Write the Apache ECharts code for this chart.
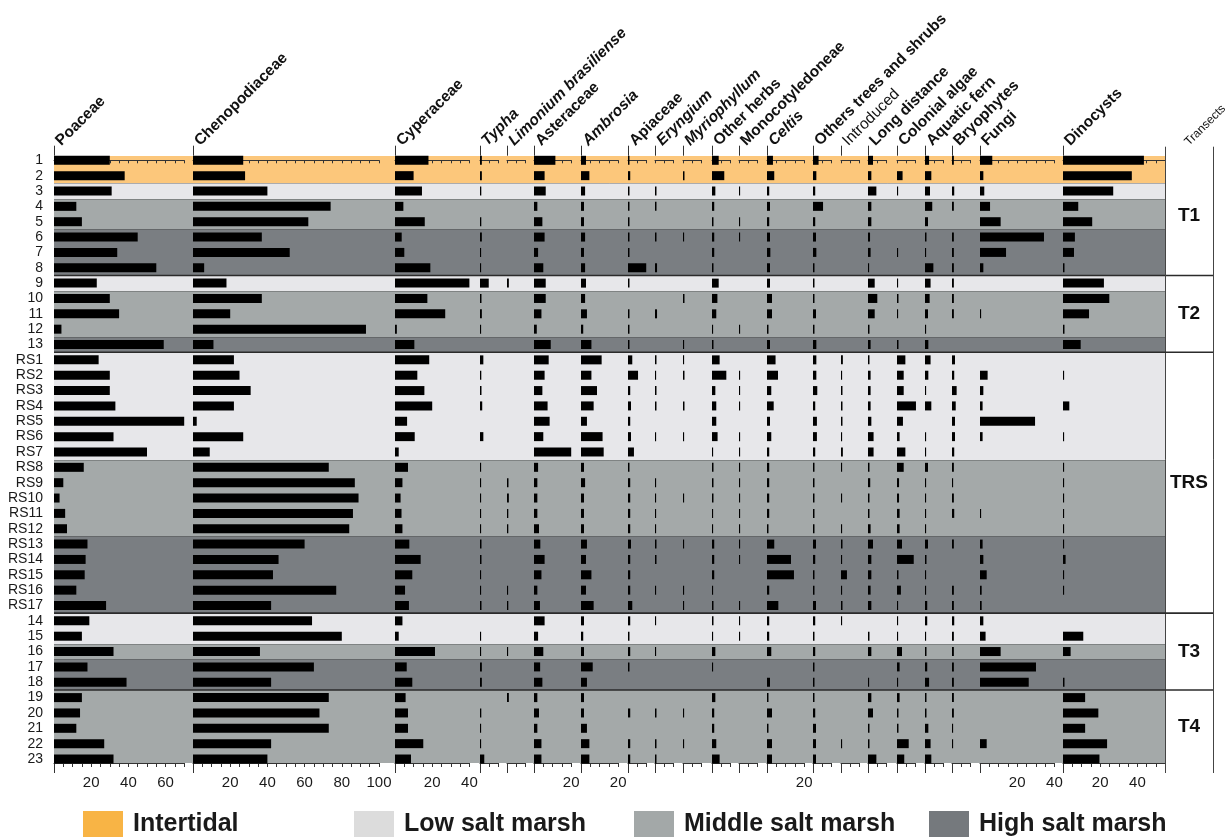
<!DOCTYPE html>
<html>
<head>
<meta charset="utf-8">
<script src="https://cdn.jsdelivr.net/npm/echarts@6/dist/echarts.min.js"></script>
<style>
  html, body { margin: 0; padding: 0; background: #fff; }
  #chart { width: 1226px; height: 838px; }
</style>
</head>
<body>
<div id="chart"></div>
<script>
// ---- Samples (rows, top to bottom) ----
const rowLabels = ['1','2','3','4','5','6','7','8','9','10','11','12','13',
  'RS1','RS2','RS3','RS4','RS5','RS6','RS7','RS8','RS9','RS10','RS11','RS12','RS13','RS14','RS15','RS16','RS17',
  '14','15','16','17','18','19','20','21','22','23'];

const environments = ['Intertidal','Intertidal','Low salt marsh','Middle salt marsh','Middle salt marsh',
  'High salt marsh','High salt marsh','High salt marsh',
  'Low salt marsh','Middle salt marsh','Middle salt marsh','Middle salt marsh','High salt marsh',
  'Low salt marsh','Low salt marsh','Low salt marsh','Low salt marsh','Low salt marsh','Low salt marsh','Low salt marsh',
  'Middle salt marsh','Middle salt marsh','Middle salt marsh','Middle salt marsh','Middle salt marsh',
  'High salt marsh','High salt marsh','High salt marsh','High salt marsh','High salt marsh',
  'Low salt marsh','Low salt marsh','Middle salt marsh','High salt marsh','High salt marsh',
  'Middle salt marsh','Middle salt marsh','Middle salt marsh','Middle salt marsh','Middle salt marsh'];

const transects = ['T1','T1','T1','T1','T1','T1','T1','T1',
  'T2','T2','T2','T2','T2',
  'TRS','TRS','TRS','TRS','TRS','TRS','TRS','TRS','TRS','TRS','TRS','TRS','TRS','TRS','TRS','TRS','TRS',
  'T3','T3','T3','T3','T3',
  'T4','T4','T4','T4','T4'];

const envNames = ['Intertidal','Low salt marsh','Middle salt marsh','High salt marsh'];

// ---- Taxa (columns) ----
const taxa = ['Poaceae','Chenopodiaceae','Cyperaceae','Typha','Limonium brasiliense','Asteraceae','Ambrosia',
  'Apiaceae','Eryngium','Myriophyllum','Other herbs','Monocotyledoneae','Celtis','Others trees and shrubs',
  'Introduced','Long distance','Colonial algae','Aquatic fern','Bryophytes','Fungi','Dinocysts'];
const italicTaxa = ['Typha','Limonium brasiliense','Ambrosia','Eryngium','Myriophyllum','Celtis'];
const lightTaxa = ['Introduced'];
const axisMax = [70,100,40,10,10,20,20,10,10,10,10,10,20,10,10,10,10,10,10,40,55];

// ---- Percentages per sample ----
const poaceae = [30,38,31,12,15,45,34,55,23,30,35,4,59,
  24,30,30,33,70,32,50,16,5,3,6,7,18,17,16.5,12,28,
  19,15,32,18,39,15,14,12,27,32];
const chenopodiaceae = [27,28,40,74,62,37,52,6,18,37,20,93,11,
  22,25,31,22,2,27,9,73,87,89,86,84,60,46,43,77,42,
  64,80,36,65,42,73,68,73,42,40];
const cyperaceae = [18,10,14.5,4.5,16,3.6,5,19,40,17.4,27,1,10.4,
  18.4,12,15.8,20,6.5,10.6,2,7,4,3,3.5,4,7.7,13.8,9.3,5.4,7.5,
  4,2,21.5,6.3,9.3,5.7,7,7,15.2,8.6];
const typha = [1,1,0.7,0,0.7,1,0.6,0.6,4.7,0.8,1,0.6,0,
  1.8,0.7,0.8,1.2,0,1.8,0,0.6,0.6,0.6,0.6,0.6,0.8,0.8,0.6,0.6,0.8,
  0,0.6,0.6,1,1,0,0.7,0.6,0.6,2.3];
const limonium = [0,0,0,0,0,0,0,0,1,0,0,0,0,
  0,0,0,0,0,0,0,0,0.8,1,0.7,0.7,0,0,0,0.6,0.7,
  0,0,0.6,0,0,1,0,0,0,0];
const asteraceae = [11.5,5.7,6.3,1.8,4.5,5.7,2.2,5,6.3,6.3,4,1.5,9,
  7.9,5.7,4.5,7.3,8.4,5,20,2.2,1.8,1.8,1.8,2.7,3.4,5.7,4,1.8,3.2,
  5.7,2.2,5,3.3,4.5,1.8,2.7,1.8,4,4];
const ambrosia = [2.7,4.5,2.2,1.6,1.6,2.2,1.6,2.2,2.7,2.2,3.2,1.2,5.6,
  11.1,5.6,8.6,6.8,3.2,11.6,12.2,1.6,2.2,1.6,1.6,1.6,3.2,2.7,5.6,2.7,6.8,
  1.6,1.2,1.6,6.3,3.2,1.6,1.6,3.2,4.5,4.5];
const apiaceae = [0.8,1.2,0.8,0.8,0.8,0.8,0.8,9.8,0.8,0,0.8,0.8,0.8,
  2.3,5.4,1.2,1.6,1.2,1.6,3.2,0.8,1.2,1.2,1.2,1.2,1.6,1.2,1.2,1.2,2.3,
  1.2,0.8,1.2,0.8,0,0,1.2,0,1.2,1.2];
const eryngium = [0,0,0.8,0.8,0,0.8,0,1.1,0,0,1.1,0,0,
  0.8,0.6,0.8,0.8,0,0.6,0,0,0.6,0.6,0.6,0.6,0.8,0.8,0,0.6,0,
  0.6,0,0.6,0,0,0,0.8,0,0.8,0.8];
const myriophyllum = [0,0.8,0,0,0,0.6,0,0,0,0.8,0,0,0.6,
  0.6,0.8,0,0.8,0,0.6,0,0,0,0.6,0,0,0.6,0,0,0.6,0.6,
  0,0,0,0,0,0,0.6,0,0.6,0];
const otherHerbs = [3.6,6.6,1.8,1.2,0.8,1.2,1.2,0.8,3.6,2.9,2.3,0.6,0.8,
  4.1,7.7,1.8,2.3,2.3,3,0.6,0.8,0.8,0.8,0.6,0.6,1.2,1.2,1.2,0.6,0.8,
  0.8,0.6,1.8,0.6,0,1.8,1.2,1.2,2.3,4.1];
const monocotyledoneae = [0,0,0.6,0,0.6,0.6,0,0,0,0,0,0.6,0,
  0,0.6,0.6,0.6,0,0.6,0.6,0.6,0.6,0.6,0.6,0.6,0.6,0.6,0,0,0.6,
  0.6,0.6,0,0,0,0,0,0,0,0];
const celtis = [3.2,3.9,1.2,1.6,1.2,1.6,1.8,1.6,1.6,2.7,2.7,0.8,1.6,
  4.6,5.9,2.3,3.6,1.6,2.3,1.2,1.2,1.2,1.2,1.2,0.8,3.9,12.9,14.5,1.2,6.1,
  1.2,1.2,2.3,0,1.6,0.8,2.7,0.8,2.7,2.7];
const othersTrees = [3,1.8,1.2,5.4,1.2,1.6,1.8,0.8,0.8,0.8,1.6,0.8,1.8,
  1.8,1.8,2.3,1.2,2.1,2.1,1.2,0.8,0.8,0.8,0.8,0.8,1.6,1.2,0.8,0.8,1.6,
  1.2,0.8,1.2,0.8,0.8,0.8,1.2,1.6,1.6,1.6];
const introduced = [0,0,0,0,0,0,0,0,0,0,0,0,0,
  1,0.6,0.8,0.8,0.8,0.6,1,0.6,0,0.6,0,0.6,0.8,0.6,3.2,0.6,0.8,
  0.6,0,0,0,0,0,0,0,0.6,0];
const longDistance = [2.7,1.8,4.5,1.8,1.8,1.1,1.4,0.6,3.6,5,3.6,0.8,1.4,
  0.8,1.4,1.4,1.4,1.8,3,3,0.8,1.2,0.8,0.8,1.4,2.7,1.8,1.8,1.4,1.8,
  0,0.8,1.8,0,0.6,1.8,2.7,0.8,0.8,4.5];
const colonialAlgae = [0,3,0.6,0,0,0,0.6,0,0.6,0.8,0.6,0,0.8,
  4.5,3.6,3.6,10.2,3.2,1.4,4.5,3.6,1.1,1.1,1.4,1.4,2.7,9,0.8,2.1,0.6,
  0.6,0.6,2.7,1.4,0.6,1.4,0.8,0.8,6.3,3.9];
const aquaticFern = [2.2,3.4,2.7,3.9,1.6,0.8,0.6,4.5,3,2.5,1.6,0.6,1.8,
  3,1.8,0.6,3.4,0,0.6,0.6,1.6,0.6,0.6,0.6,0.6,1.6,0.8,0.6,0.6,1.2,
  1.2,0.6,0.8,1.2,2.2,0.8,0.8,1.8,3,3.4];
const bryophytes = [1,0,1.2,1,0,1,1,1,1,1,1,0,0,
  1.6,1.2,2.5,2,1.6,1.6,1.2,1,0.6,1,1.2,0,1,0,0,1,1,
  1.2,1,1,1,1,1,1,0.6,0.6,0];
const fungi = [6.6,1.8,2.3,5.4,11.1,34.4,14,1.8,0,0,0.6,0,0,
  0,4.1,1.8,1.4,29.6,1.4,0,0,0,0,0.6,0,1.4,1.8,3.6,0.9,0.9,
  1.8,3,11.1,30.1,26.2,0,0,0,3.6,0];
const dinocysts = [43.5,37,27,8.2,15.7,6.4,5.9,0.8,22,24.9,14,0.8,9.5,
  0,0.6,0,3.4,0,0.6,0,0.6,0.6,0.6,0.6,0.6,0.6,1.4,0.6,0.6,0,
  0,10.9,4.1,0,0.8,11.9,19,11.9,23.7,19.6];

const taxonValues = [poaceae, chenopodiaceae, cyperaceae, typha, limonium, asteraceae, ambrosia,
  apiaceae, eryngium, myriophyllum, otherHerbs, monocotyledoneae, celtis, othersTrees,
  introduced, longDistance, colonialAlgae, aquaticFern, bryophytes, fungi, dinocysts];

// ---- Layout ----
const taxonLeft = [54,193,395,480,507,534,581,628,655,683,712,739,767,813,841,868,897,925,952,980,1063];
const PX_PER_UNIT = 1.86;
const PLOT_LEFT = 54, PLOT_RIGHT = 1165;
const PLOT_TOP = 155.7, PLOT_H = 607.3;
const Y_MIN = -0.3, Y_MAX = 39.26;
const ROW_PX = PLOT_H / (Y_MAX - Y_MIN);
const BAR_H = 9;
const TRANSECT_W = 48;
const HEAD_DX = 10, HEAD_Y = 149;
const FONT = '"Liberation Sans", Arial, sans-serif';

const bandColors = ['#FCC77B', '#E7E7EA', '#A4A9A9', '#7A7E82'];
const legendColors = ['#F8B445', '#DCDCDC', '#A3A8A8', '#75797D'];
const legendLeft = [83, 354, 634, 929];

const grids = [], xAxes = [], yAxes = [], series = [];

// Row labels: category axis aligned to the row centres
grids.push({ left: PLOT_LEFT, width: PLOT_RIGHT - PLOT_LEFT,
  top: PLOT_TOP + (-0.5 - Y_MIN) * ROW_PX, height: rowLabels.length * ROW_PX });
xAxes.push({ gridIndex: 0, type: 'value', show: false });
yAxes.push({ gridIndex: 0, type: 'category', inverse: true, data: rowLabels,
  axisLine: { show: false }, axisTick: { show: false }, splitLine: { show: false },
  axisLabel: { interval: 0, margin: 11, fontSize: 14, color: '#1a1a1a', fontFamily: FONT } });

// Background grid for environment bands and transect frame
grids.push({ left: PLOT_LEFT, width: PLOT_RIGHT - PLOT_LEFT, top: PLOT_TOP, height: PLOT_H });
xAxes.push({ gridIndex: 1, type: 'value', min: 0, max: 1, show: false });
yAxes.push({ gridIndex: 1, type: 'value', min: Y_MIN, max: Y_MAX, inverse: true, show: false });

envNames.forEach((env, k) => {
  series.push({
    type: 'custom', name: env, xAxisIndex: 1, yAxisIndex: 1, z: 1, silent: true,
    itemStyle: { color: legendColors[k] },
    data: rowLabels.map((_, i) => i).filter(i => environments[i] === env).map(i => [0, i]),
    renderItem: (params, api) => {
      const i = api.value(1);
      const cs = params.coordSys;
      let y0 = Math.round(Math.max(api.coord([0, i - 0.5])[1], cs.y));
      let y1 = Math.round(Math.min(api.coord([0, i + 0.5])[1], cs.y + cs.height));
      const children = [{ type: 'rect', shape: { x: cs.x, y: y0, width: cs.width, height: y1 - y0 },
        style: { fill: bandColors[k] } }];
      if (i > 0 && environments[i - 1] !== env && transects[i - 1] === transects[i]) {
        children.push({ type: 'line', shape: { x1: cs.x, y1: y0 + 0.5, x2: cs.x + cs.width, y2: y0 + 0.5 },
          style: { stroke: 'rgba(60,60,60,0.35)', lineWidth: 1 } });
      }
      return { type: 'group', children };
    }
  });
});

// Transect frame, separators and labels
const transectNames = transects.filter((t, i) => transects.indexOf(t) === i);
series.push({
  type: 'custom', xAxisIndex: 1, yAxisIndex: 1, z: 4, silent: true,
  data: transectNames.map((_, k) => [0, k]),
  renderItem: (params, api) => {
    const k = api.value(1);
    const name = transectNames[k];
    const first = transects.indexOf(name), last = transects.lastIndexOf(name);
    const cs = params.coordSys;
    const right = cs.x + cs.width, colRight = right + TRANSECT_W;
    const yTop = Math.max(api.coord([0, first - 0.5])[1], cs.y);
    const yBot = Math.min(api.coord([0, last + 0.5])[1], cs.y + cs.height);
    const children = [{
      type: 'text', x: right + TRANSECT_W / 2, y: (yTop + yBot) / 2,
      style: { text: name, fontSize: 19, fontWeight: 'bold', fontFamily: FONT, fill: '#111',
        align: 'center', verticalAlign: 'middle', textAlign: 'center', textVerticalAlign: 'middle' }
    }];
    if (k < transectNames.length - 1) {
      children.push({ type: 'line', shape: { x1: cs.x, y1: yBot, x2: colRight, y2: yBot },
        style: { stroke: '#2b2b2b', lineWidth: 1.6 } });
    }
    if (k === 0) {
      [right + 0.5, colRight + 0.5].forEach(x => children.push({
        type: 'line', shape: { x1: x, y1: cs.y - 9, x2: x, y2: cs.y + cs.height + 10 },
        style: { stroke: '#444', lineWidth: 1 } }));
    }
    return { type: 'group', children };
  }
});

// One grid per taxon, with a top and a bottom scale
taxa.forEach((name, t) => {
  const g = grids.length;
  grids.push({ left: taxonLeft[t], top: PLOT_TOP, width: axisMax[t] * PX_PER_UNIT, height: PLOT_H });
  const common = { gridIndex: g, type: 'value', min: 0, max: axisMax[t], interval: 5, z: 2,
    splitLine: { show: false }, axisLine: { show: true, lineStyle: { color: '#333', width: 1 } } };
  const xi = xAxes.length;
  xAxes.push(Object.assign({}, common, { position: 'top',
    axisTick: { show: true, inside: true, length: 3, lineStyle: { color: '#333' } },
    axisLabel: { show: false } }));
  xAxes.push(Object.assign({}, common, { position: 'bottom',
    axisTick: { show: true, inside: false, length: 4, lineStyle: { color: '#333' } },
    axisLabel: { show: true, margin: 12, fontSize: 15, color: '#1a1a1a', fontFamily: FONT,
      formatter: v => (v > 0 && v % 20 === 0) ? String(v) : '' } }));
  const yi = yAxes.length;
  yAxes.push({ gridIndex: g, type: 'value', min: Y_MIN, max: Y_MAX, inverse: true, show: false });

  series.push({
    type: 'custom', name: name, xAxisIndex: xi, yAxisIndex: yi, z: 3, silent: true,
    data: taxonValues[t].map((v, i) => [v, i]),
    renderItem: (params, api) => {
      const v = api.value(0), row = api.value(1);
      const p0 = api.coord([0, row]), p1 = api.coord([v, row]);
      const children = [];
      if (v > 0) {
        children.push({ type: 'rect',
          shape: { x: p0[0], y: p0[1] - BAR_H / 2, width: Math.max(p1[0] - p0[0], 1), height: BAR_H },
          style: { fill: '#000' } });
      }
      if (params.dataIndex === 0) {
        const cs = params.coordSys;
        const x = Math.round(p0[0]) + 0.5;
        children.push({ type: 'line', shape: { x1: x, y1: cs.y - 10, x2: x, y2: cs.y },
          style: { stroke: '#333', lineWidth: 1 } });
        children.push({ type: 'line', shape: { x1: x, y1: cs.y + cs.height, x2: x, y2: cs.y + cs.height + 10 },
          style: { stroke: '#333', lineWidth: 1 } });
      }
      return { type: 'group', children };
    }
  });
});

// Rotated column headings
const headings = taxa.map((name, t) => ({
  type: 'text', x: taxonLeft[t] + HEAD_DX, y: HEAD_Y, rotation: Math.PI / 4, silent: true,
  style: {
    text: name, fill: '#111', fontFamily: FONT, fontSize: 15.5,
    fontWeight: lightTaxa.includes(name) ? 'normal' : 'bold',
    fontStyle: italicTaxa.includes(name) ? 'italic' : 'normal',
    align: 'left', verticalAlign: 'bottom', textAlign: 'left', textVerticalAlign: 'bottom'
  }
}));
headings.push({
  type: 'text', x: PLOT_RIGHT + 18 + HEAD_DX - 2, y: HEAD_Y - 1, rotation: Math.PI / 4, silent: true,
  style: { text: 'Transects', fill: '#111', fontFamily: FONT, fontSize: 12,
    align: 'left', verticalAlign: 'bottom', textAlign: 'left', textVerticalAlign: 'bottom' }
});

const legends = envNames.map((env, k) => ({
  data: [{ name: env, itemStyle: { color: legendColors[k] } }],
  left: legendLeft[k], top: 811, padding: 0, itemWidth: 40, itemHeight: 26, icon: 'rect',
  selectedMode: false,
  textStyle: { fontSize: 25, fontWeight: 'bold', color: '#1a1a1a', fontFamily: FONT, padding: [2, 0, 0, 5] }
}));

const chart = echarts.init(document.getElementById('chart'), null, { renderer: 'canvas' });
chart.setOption({
  animation: false,
  backgroundColor: '#fff',
  textStyle: { fontFamily: FONT },
  grid: grids,
  xAxis: xAxes,
  yAxis: yAxes,
  legend: legends,
  graphic: headings,
  series: series
});
</script>
</body>
</html>
